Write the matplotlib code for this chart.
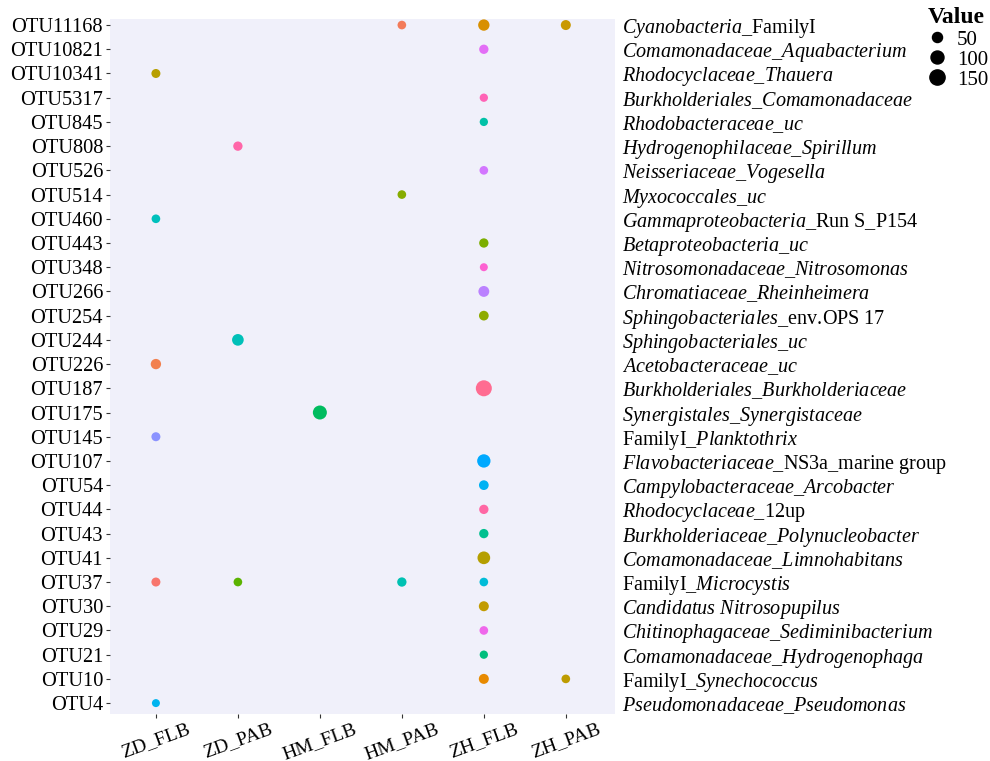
import numpy as np
import matplotlib
matplotlib.use("Agg")
import matplotlib.pyplot as plt
from matplotlib.lines import Line2D

plt.rcParams['font.family'] = ['Liberation Serif', 'DejaVu Serif']
plt.rcParams['mathtext.fontset'] = 'custom'
plt.rcParams['mathtext.rm'] = 'Liberation Serif'
plt.rcParams['mathtext.it'] = 'Liberation Serif:italic'
plt.rcParams['mathtext.bf'] = 'Liberation Serif:bold'

groups = ["ZD_FLB", "ZD_PAB", "HM_FLB", "HM_PAB", "ZH_FLB", "ZH_PAB"]

otus = ["OTU11168", "OTU10821", "OTU10341", "OTU5317", "OTU845", "OTU808",
        "OTU526", "OTU514", "OTU460", "OTU443", "OTU348", "OTU266", "OTU254",
        "OTU244", "OTU226", "OTU187", "OTU175", "OTU145", "OTU107", "OTU54",
        "OTU44", "OTU43", "OTU41", "OTU37", "OTU30", "OTU29", "OTU21",
        "OTU10", "OTU4"]

# taxonomy per OTU; *...* marks italic parts
taxa = ["*Cyanobacteria*_FamilyI",
        "*Comamonadaceae_Aquabacterium*",
        "*Rhodocyclaceae_Thauera*",
        "*Burkholderiales_Comamonadaceae*",
        "*Rhodobacteraceae_uc*",
        "*Hydrogenophilaceae_Spirillum*",
        "*Neisseriaceae_Vogesella*",
        "*Myxococcales_uc*",
        "*Gammaproteobacteria*_Run S_P154",
        "*Betaproteobacteria_uc*",
        "*Nitrosomonadaceae_Nitrosomonas*",
        "*Chromatiaceae_Rheinheimera*",
        "*Sphingobacteriales*_env.OPS 17",
        "*Sphingobacteriales_uc*",
        "*Acetobacteraceae_uc*",
        "*Burkholderiales_Burkholderiaceae*",
        "*Synergistales_Synergistaceae*",
        "FamilyI_*Planktothrix*",
        "*Flavobacteriaceae*_NS3a_marine group",
        "*Campylobacteraceae_Arcobacter*",
        "*Rhodocyclaceae*_12up",
        "*Burkholderiaceae_Polynucleobacter*",
        "*Comamonadaceae_Limnohabitans*",
        "FamilyI_*Microcystis*",
        "*Candidatus Nitrosopupilus*",
        "*Chitinophagaceae_Sediminibacterium*",
        "*Comamonadaceae_Hydrogenophaga*",
        "FamilyI_*Synechococcus*",
        "*Pseudomonadaceae_Pseudomonas*"]

point_otu = ["OTU11168", "OTU11168", "OTU11168", "OTU10821", "OTU10341",
             "OTU5317", "OTU845", "OTU808", "OTU526", "OTU514", "OTU460",
             "OTU443", "OTU348", "OTU266", "OTU254", "OTU244", "OTU226",
             "OTU187", "OTU175", "OTU145", "OTU107", "OTU54", "OTU44",
             "OTU43", "OTU41", "OTU37", "OTU37", "OTU37", "OTU37", "OTU30",
             "OTU29", "OTU21", "OTU10", "OTU10", "OTU4"]
point_group = ["HM_PAB", "ZH_FLB", "ZH_PAB", "ZH_FLB", "ZD_FLB",
               "ZH_FLB", "ZH_FLB", "ZD_PAB", "ZH_FLB", "HM_PAB", "ZD_FLB",
               "ZH_FLB", "ZH_FLB", "ZH_FLB", "ZH_FLB", "ZD_PAB", "ZD_FLB",
               "ZH_FLB", "HM_FLB", "ZD_FLB", "ZH_FLB", "ZH_FLB", "ZH_FLB",
               "ZH_FLB", "ZH_FLB", "ZD_FLB", "ZD_PAB", "HM_PAB", "ZH_FLB",
               "ZH_FLB", "ZH_FLB", "ZH_FLB", "ZH_FLB", "ZH_PAB", "ZD_FLB"]
point_value = [32, 70, 49, 40, 36,
               28, 28, 40, 32, 32, 32,
               40, 25, 62, 45, 75, 54,
               169, 121, 36, 107, 45, 40,
               40, 94, 36, 32, 40, 32,
               49, 32, 28, 49, 32, 25]
point_color = ["#F37B59", "#D89000", "#C99800", "#E36EF6", "#B79F00",
               "#FF63B6", "#00C1A7", "#FF66A8", "#D376FF", "#86AC00", "#00C0BC",
               "#7CAE00", "#FD61D1", "#BB81FF", "#8EAB00", "#00C0B8", "#F2804E",
               "#FF6C91", "#00BC5F", "#8B93FF", "#00A9FF", "#00B2F3", "#FF67A4",
               "#00C08F", "#B59F00", "#F8766D", "#5BB300", "#00C1B2", "#00BCD8",
               "#C29B00", "#EF67EB", "#00BF7D", "#E88A00", "#BE9C00", "#00B4EF"]

legend_values = [50, 100, 150]

DPI = 100


def marker_diameter_pt(v):
    # circle diameter grows with the square root of the value
    return (3.0 + np.sqrt(v)) * 72.0 / DPI


def to_mathtext(label):
    parts = label.split("*")
    out = []
    for i, seg in enumerate(parts):
        if not seg:
            continue
        # mathtext pads a period with space; pull the next glyph back
        seg = (seg.replace("_", r"\_").replace(" ", r"\ ")
                  .replace(".", r".\!"))
        out.append((r"\mathit{%s}" if i % 2 else r"\mathrm{%s}") % seg)
    return "$" + "".join(out) + "$"


fig = plt.figure(figsize=(9.9, 7.61), dpi=DPI)
ax = fig.add_axes([110 / 990, 1 - 714 / 761, 505 / 990, 695 / 761])
ax.set_facecolor("#F0F0FA")

xs = [groups.index(g) for g in point_group]
ys = [otus.index(o) for o in point_otu]
sizes = [marker_diameter_pt(v) ** 2 for v in point_value]
ax.scatter(xs, ys, s=sizes, c=point_color, linewidths=0, zorder=3)

ax.set_xlim(-0.56, 5.6)
ax.set_ylim(len(otus) - 1 + 0.45, -0.25)
ax.set_xticks(range(len(groups)))
ax.set_xticklabels(groups, rotation=20, ha="center", fontsize=14)
ax.set_yticks(range(len(otus)))
ax.set_yticklabels(otus, fontsize=14.7)
ax.tick_params(axis="both", length=3, width=0.8, color="#333333", pad=2,
               labelcolor="black")
ax.tick_params(axis="x", pad=1.5)
for sp in ax.spines.values():
    sp.set_visible(False)

ax2 = ax.twinx()
ax2.set_ylim(ax.get_ylim())
ax2.set_yticks(range(len(otus)))
ax2.set_yticklabels([to_mathtext(t) for t in taxa], fontsize=14.5)
ax2.tick_params(axis="y", length=0, pad=5)
for sp in ax2.spines.values():
    sp.set_visible(False)

handles = [Line2D([], [], linestyle="none", marker="o", color="black",
                  markersize=marker_diameter_pt(v)) for v in legend_values]
fig.legend(handles, [str(v) for v in legend_values], title="Value",
           loc="upper left", bbox_to_anchor=(928 / 990, 1 - 7 / 761),
           frameon=False, fontsize=15, alignment="left",
           title_fontproperties={"weight": "bold", "size": 17},
           handletextpad=0.5, labelspacing=0.02, handlelength=0.9,
           borderpad=0, borderaxespad=0)
fig.legends[0]._legend_box.sep = 1.5

fig.savefig("out.png", dpi=DPI)
